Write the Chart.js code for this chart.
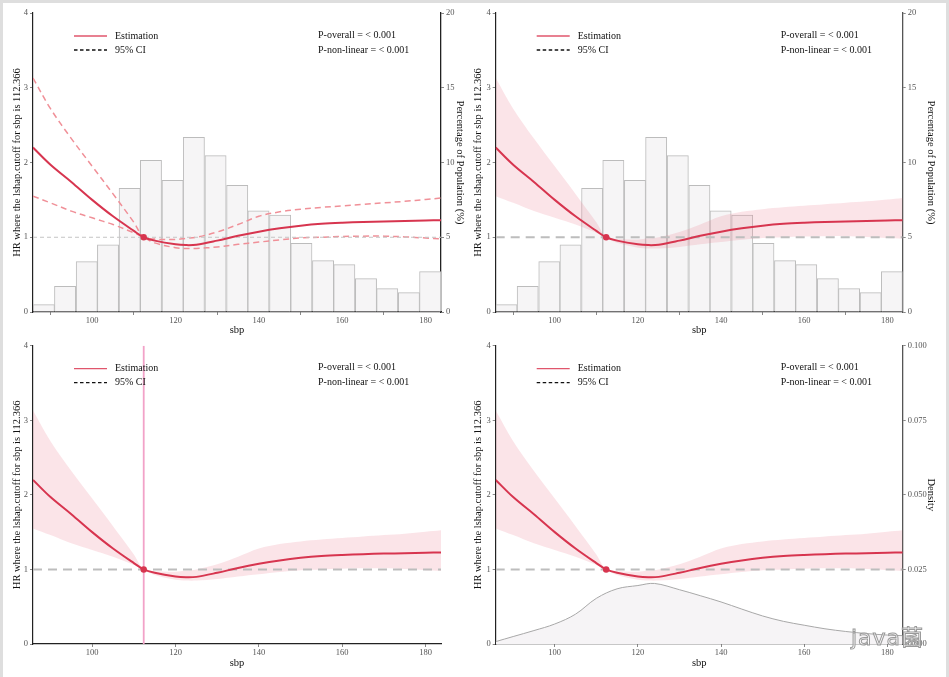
<!DOCTYPE html>
<html>
<head>
<meta charset="utf-8">
<script src="https://cdn.jsdelivr.net/npm/chart.js@4.4.1/dist/chart.umd.min.js"></script>
<style>
  html, body { margin: 0; padding: 0; background: #dedede; width: 949px; height: 677px; overflow: hidden; }
  #page { position: absolute; left: 3px; top: 3px; width: 943px; height: 674px; background: #fff; }
  canvas { position: absolute; }
  #mark { position: absolute; left: 851px; top: 619px; font: 22px "DejaVu Sans", sans-serif;
          color: rgba(255,255,255,0.5); -webkit-text-stroke: 1px #9a9a9a; letter-spacing: 1px; }
</style>
</head>
<body>
<div id="page"></div>
<canvas id="p1"></canvas>
<canvas id="p2"></canvas>
<canvas id="p3"></canvas>
<canvas id="p4"></canvas>
<div id="mark">java<span style="font-family:'Noto Sans CJK SC'">菌</span></div>
<script>
const X_MIN = 85.8, X_MAX = 183.7;
const REF_SBP = 112.366;
const xTickValues = [100, 120, 140, 160, 180];
const hrTickValues = [0, 1, 2, 3, 4];
const pctTickValues = [0, 5, 10, 15, 20];
const densityTickValues = [0, 0.025, 0.05, 0.075, 0.1];

const legendLabels = ["Estimation", "95% CI"];
const pLabels = ["P-overall = < 0.001", "P-non-linear = < 0.001"];
const yTitle = "HR where the lshap.cutoff for sbp is 112.366";
const xTitle = "sbp";

// spline estimate and 95% CI
const sbp = [85.8, 90, 95, 100, 105, 110, 112.366, 115, 120, 122.5, 125, 130, 135, 140, 145, 150, 155, 160, 165, 170, 175, 180, 183.7];
const hrEstimate = [2.20, 1.97, 1.74, 1.50, 1.28, 1.085, 1.00, 0.955, 0.905, 0.895, 0.90, 0.955, 1.02, 1.075, 1.12, 1.155, 1.18, 1.195, 1.205, 1.212, 1.218, 1.224, 1.228];
const hrUpper = [3.13, 2.72, 2.32, 1.95, 1.58, 1.20, 1.00, 0.975, 0.97, 0.985, 1.00, 1.07, 1.17, 1.28, 1.34, 1.375, 1.40, 1.42, 1.44, 1.46, 1.48, 1.505, 1.525];
const hrLower = [1.55, 1.46, 1.35, 1.26, 1.17, 1.06, 1.00, 0.925, 0.86, 0.85, 0.85, 0.87, 0.905, 0.935, 0.965, 0.99, 1.00, 1.01, 1.015, 1.015, 1.005, 0.99, 0.98];

// histogram of sbp (% of population)
const binCenters = [88.4, 93.5, 98.7, 103.8, 109.0, 114.1, 119.3, 124.4, 129.6, 134.8, 139.9, 145.1, 150.2, 155.4, 160.5, 165.7, 170.8, 176.0, 181.1];
const binPercent = [0.49, 1.72, 3.37, 4.49, 8.27, 10.15, 8.80, 11.69, 10.46, 8.47, 6.77, 6.48, 4.60, 3.44, 3.17, 2.23, 1.56, 1.30, 2.70];

// density of sbp
const densitySbp = [85.8, 90, 95, 100, 105, 110, 115, 120, 124, 130, 135, 140, 145, 150, 155, 160, 165, 170, 175, 180, 183.7];
const densityValue = [0.0008, 0.0025, 0.0045, 0.0067, 0.0100, 0.0153, 0.0185, 0.0196, 0.0203, 0.0182, 0.0162, 0.0141, 0.0117, 0.0094, 0.0076, 0.0063, 0.0051, 0.0042, 0.0035, 0.0030, 0.0028];

const RED = "#d7354f";
const SERIF = '"Liberation Serif", "Times New Roman", serif';
const tickFont = { family: SERIF, size: 8.5 };
const titleFont = { family: SERIF, size: 10.5, lineHeight: 1.2 };
const HALF_LINE = 10.5 * 1.2 / 2;
const SMOOTH = 0.35;

const pts = (xs, ys) => xs.map((x, i) => ({ x, y: ys[i] }));

// legend + p-values, drawn inside the plot area
const annotate = {
  id: "annotate",
  afterDraw(chart) {
    const { ctx, chartArea: a } = chart;
    ctx.save();
    ctx.lineWidth = 1.3;
    ctx.strokeStyle = "#e0566c";
    ctx.beginPath(); ctx.moveTo(a.left + 41, a.top + 23); ctx.lineTo(a.left + 74, a.top + 23); ctx.stroke();
    ctx.strokeStyle = "#111";
    ctx.setLineDash([3.5, 2.5]);
    ctx.beginPath(); ctx.moveTo(a.left + 41, a.top + 37); ctx.lineTo(a.left + 74, a.top + 37); ctx.stroke();
    ctx.setLineDash([]);
    ctx.fillStyle = "#111";
    ctx.font = "10px " + SERIF;
    ctx.textBaseline = "middle";
    ctx.fillText(legendLabels[0], a.left + 82, a.top + 23);
    ctx.fillText(legendLabels[1], a.left + 82, a.top + 37);
    ctx.fillText(pLabels[0], a.left + 285, a.top + 22);
    ctx.fillText(pLabels[1], a.left + 285, a.top + 37);
    ctx.restore();
  }
};

function makePanel(id, cfg) {
  const cv = document.getElementById(id);
  cv.width = cfg.w; cv.height = cfg.h;
  cv.style.left = cfg.left + "px"; cv.style.top = cfg.top + "px";

  // first dataset is drawn on top
  const datasets = [];
  datasets.push({ type: "scatter", data: [{ x: REF_SBP, y: 1 }], pointRadius: 3.2, pointBackgroundColor: RED, pointBorderWidth: 0, yAxisID: "y" });
  datasets.push({ data: pts(sbp, hrEstimate), borderColor: RED, borderWidth: 2, pointRadius: 0, tension: SMOOTH, fill: false, yAxisID: "y" });
  if (cfg.vline) {
    datasets.push({ data: [{ x: REF_SBP, y: 0 }, { x: REF_SBP, y: 4 }], borderColor: "#f2a2c8", borderWidth: 1.8, pointRadius: 0, fill: false, yAxisID: "y" });
  }
  datasets.push({ data: [{ x: X_MIN, y: 1 }, { x: X_MAX, y: 1 }], borderColor: cfg.dashedCI ? "#c4c4c4" : "#bdbdbd",
    borderWidth: cfg.dashedCI ? 1 : 2, borderDash: cfg.dashedCI ? [4, 3] : [9, 6], pointRadius: 0, fill: false, yAxisID: "y" });
  if (cfg.dashedCI) {
    datasets.push({ data: pts(sbp, hrUpper), borderColor: "#f09098", borderWidth: 1.5, borderDash: [6, 4], pointRadius: 0, tension: SMOOTH, fill: false, yAxisID: "y" });
    datasets.push({ data: pts(sbp, hrLower), borderColor: "#f09098", borderWidth: 1.5, borderDash: [6, 4], pointRadius: 0, tension: SMOOTH, fill: false, yAxisID: "y" });
  } else {
    datasets.push({ data: pts(sbp, hrUpper), borderWidth: 0, pointRadius: 0, tension: SMOOTH, fill: "+1", backgroundColor: "rgba(236,120,140,0.2)", yAxisID: "y" });
    datasets.push({ data: pts(sbp, hrLower), borderWidth: 0, pointRadius: 0, tension: SMOOTH, fill: false, yAxisID: "y" });
  }
  if (cfg.right === "pct") {
    datasets.push({ type: "bar", data: pts(binCenters, binPercent), backgroundColor: "#f6f5f6", borderColor: "#bcbcbc", borderWidth: 1,
      barPercentage: 1, categoryPercentage: 1, yAxisID: "y2" });
  }
  if (cfg.right === "density") {
    datasets.push({ data: pts(densitySbp, densityValue), borderColor: "#a8a8a8", borderWidth: 1, pointRadius: 0, tension: SMOOTH,
      fill: "origin", backgroundColor: "#f6f4f6", yAxisID: "y2" });
  }

  const leftW = cfg.area.l - cfg.left;
  const rightW = cfg.left + cfg.w - cfg.area.r;
  const bottomH = cfg.top + cfg.h - cfg.area.b;

  const scales = {
    x: {
      type: "linear", min: X_MIN, max: X_MAX, offset: false,
      afterBuildTicks: s => { s.ticks = xTickValues.map(v => ({ value: v })); },
      afterFit: s => { s.height = bottomH; },
      border: { color: "#222", width: 1.2 },
      grid: { drawOnChartArea: false, tickLength: 3, color: "#888" },
      ticks: { color: "#555", font: tickFont, padding: 1, maxRotation: 0 },
      title: { display: true, text: xTitle, color: "#111", font: titleFont,
        padding: { top: 0, bottom: cfg.top + cfg.h - cfg.xTitleY - HALF_LINE } }
    },
    y: {
      position: "left", min: 0, max: 4,
      afterBuildTicks: s => { s.ticks = hrTickValues.map(v => ({ value: v })); },
      afterFit: s => { s.width = leftW; },
      border: { color: "#222", width: 1.2 },
      grid: { drawOnChartArea: false, tickLength: 3, color: "#888" },
      ticks: { color: "#555", font: tickFont, padding: 2 },
      title: { display: true, text: yTitle, color: "#111", font: titleFont,
        padding: { top: cfg.yTitleX - cfg.left - HALF_LINE, bottom: 0 } }
    }
  };
  if (cfg.right) {
    const vals = cfg.right === "pct" ? pctTickValues : densityTickValues;
    scales.y2 = {
      position: "right", min: 0, max: vals[vals.length - 1],
      afterBuildTicks: s => { s.ticks = vals.map(v => ({ value: v })); },
      afterFit: s => { s.width = rightW; },
      border: { color: cfg.rightColor, width: 1.3 },
      grid: { drawOnChartArea: false, tickLength: 3, color: "#888" },
      ticks: { color: "#555", font: tickFont, padding: 2,
        callback: v => cfg.right === "density" ? v.toFixed(3) : String(v) },
      title: { display: true, text: cfg.right === "pct" ? "Percentage of Population (%)" : "Density", color: "#111", font: titleFont,
        padding: { top: cfg.left + cfg.w - cfg.r2TitleX - HALF_LINE, bottom: 0 } }
    };
  }

  return new Chart(cv, {
    type: "line",
    data: { datasets },
    options: {
      responsive: false,
      animation: false,
      events: [],
      layout: { padding: { top: cfg.area.t - cfg.top, left: 0, bottom: 0, right: cfg.right ? 0 : rightW } },
      plugins: { legend: { display: false }, tooltip: { enabled: false } },
      scales
    },
    plugins: [annotate]
  });
}

makePanel("p1", { left: 0, top: 0, w: 474, h: 338, area: { l: 33, r: 441, t: 13, b: 312 },
  dashedCI: true, right: "pct", rightColor: "#222", yTitleX: 17, r2TitleX: 459.5, xTitleY: 330 });
makePanel("p2", { left: 466, top: 0, w: 483, h: 338, area: { l: 495.7, r: 902.7, t: 13, b: 312 },
  dashedCI: false, right: "pct", rightColor: "#555", yTitleX: 478, r2TitleX: 931, xTitleY: 330 });
makePanel("p3", { left: 0, top: 338, w: 474, h: 339, area: { l: 33, r: 441, t: 345.7, b: 644 },
  dashedCI: false, vline: true, right: null, yTitleX: 17, xTitleY: 663.3 });
makePanel("p4", { left: 466, top: 338, w: 483, h: 339, area: { l: 495.7, r: 902.7, t: 345.7, b: 644 },
  dashedCI: false, right: "density", rightColor: "#555", yTitleX: 478, r2TitleX: 931, xTitleY: 663.3 });
</script>
</body>
</html>
